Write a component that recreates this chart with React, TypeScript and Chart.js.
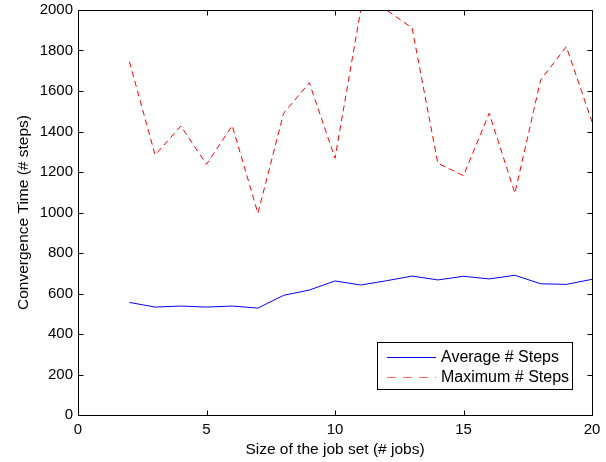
import React, { useEffect, useRef } from "react";
import { Chart, registerables } from "chart.js";

Chart.register(...registerables);

const jobSizes = [2, 3, 4, 5, 6, 7, 8, 9, 10, 11, 12, 13, 14, 15, 16, 17, 18, 19, 20];
const averageSteps = [556, 533, 538, 533, 538, 528, 591, 617, 662, 642, 663, 686, 667, 685, 672, 690, 648, 645, 670];
const maximumSteps = [1745, 1284, 1427, 1238, 1429, 996, 1490, 1641, 1268, 2000, 2000, 1911, 1243, 1182, 1490, 1095, 1654, 1819, 1448];
const xTicks = [0, 5, 10, 15, 20];
const yTicks = [0, 200, 400, 600, 800, 1000, 1200, 1400, 1600, 1800, 2000];
const seriesLabels = ["Average # Steps", "Maximum # Steps"];

const FONT = "Liberation Sans, Arial, Helvetica, sans-serif";

const framePlugin = {
  id: "matlabFrame",
  afterDatasetsDraw(chart: any) {
    const { ctx, chartArea } = chart;
    const { left, right, top, bottom } = chartArea;
    const xs = chart.scales.x;
    const ys = chart.scales.y;
    ctx.save();
    ctx.strokeStyle = "#000";
    ctx.lineWidth = 1;
    const L = Math.round(left) + 0.5;
    const R = Math.round(right) + 0.5;
    const T = Math.round(top) + 0.5;
    const B = Math.round(bottom) + 0.5;
    ctx.beginPath();
    ctx.rect(L, T, R - L, B - T);
    const tl = 5;
    xTicks.forEach((v) => {
      const px = Math.round(xs.getPixelForValue(v)) + 0.5;
      ctx.moveTo(px, B);
      ctx.lineTo(px, B - tl);
      ctx.moveTo(px, T);
      ctx.lineTo(px, T + tl);
    });
    yTicks.forEach((v) => {
      const py = Math.round(ys.getPixelForValue(v)) + 0.5;
      ctx.moveTo(L, py);
      ctx.lineTo(L + tl, py);
      ctx.moveTo(R, py);
      ctx.lineTo(R - tl, py);
    });
    ctx.stroke();

    // legend
    const bx = 377.5, by = 342.5, bw = 195, bh = 47;
    ctx.fillStyle = "#fff";
    ctx.fillRect(bx, by, bw, bh);
    ctx.strokeStyle = "#000";
    ctx.strokeRect(bx, by, bw, bh);
    const rows = [357.5, 377.5];
    ctx.lineWidth = 1;
    ctx.beginPath();
    ctx.strokeStyle = "#0000ff";
    ctx.moveTo(387, rows[0]);
    ctx.lineTo(436, rows[0]);
    ctx.stroke();
    ctx.beginPath();
    ctx.strokeStyle = "#ff6060";
    ctx.setLineDash([9, 7]);
    ctx.moveTo(387, rows[1]);
    ctx.lineTo(436, rows[1]);
    ctx.stroke();
    ctx.setLineDash([]);
    ctx.fillStyle = "#000";
    ctx.font = `16px ${FONT}`;
    ctx.textBaseline = "middle";
    ctx.textAlign = "left";
    ctx.fillText(seriesLabels[0], 441, rows[0]);
    ctx.fillText(seriesLabels[1], 441, rows[1]);
    ctx.restore();
  },
};

export default function App() {
  const ref = useRef<HTMLCanvasElement | null>(null);
  useEffect(() => {
    if (!ref.current) return;
    const chart = new Chart(ref.current, {
      type: "line",
      data: {
        datasets: [
          {
            label: seriesLabels[0],
            data: jobSizes.map((x, i) => ({ x, y: averageSteps[i] })),
            borderColor: "#0000ff",
            borderWidth: 1,
            pointRadius: 0,
            tension: 0,
            fill: false,
          },
          {
            label: seriesLabels[1],
            data: jobSizes.map((x, i) => ({ x, y: maximumSteps[i] })),
            borderColor: "#ff0000",
            borderWidth: 1,
            borderDash: [6, 4],
            pointRadius: 0,
            tension: 0,
            fill: false,
          },
        ],
      },
      options: {
        animation: false,
        responsive: false,
        maintainAspectRatio: false,
        devicePixelRatio: 1,
        layout: { padding: { top: 10, right: 14, left: 0, bottom: 0 } },
        plugins: {
          legend: { display: false },
          tooltip: { enabled: false },
        },
        scales: {
          x: {
            type: "linear",
            min: 0,
            max: 20,
            grid: { display: false, drawTicks: false },
            border: { display: false },
            afterBuildTicks: (s: any) => {
              s.ticks = xTicks.map((v) => ({ value: v }));
            },
            afterFit: (s: any) => {
              s.height = 47;
              s.paddingLeft = 0;
              s.paddingRight = 0;
            },
            ticks: {
              color: "#000",
              padding: 6,
              font: { family: FONT, size: 15 },
              maxRotation: 0,
              callback: (v: any) => String(v),
            },
            title: {
              display: true,
              text: "Size of the job set (# jobs)",
              color: "#000",
              font: { family: FONT, size: 15.5 },
              padding: { top: 1, bottom: 3 },
            },
          },
          y: {
            type: "linear",
            min: 0,
            max: 2000,
            grid: { display: false, drawTicks: false },
            border: { display: false },
            afterBuildTicks: (s: any) => {
              s.ticks = yTicks.map((v) => ({ value: v }));
            },
            afterFit: (s: any) => {
              s.width = 78;
              s.paddingTop = 0;
              s.paddingBottom = 0;
            },
            ticks: {
              color: "#000",
              padding: 5,
              font: { family: FONT, size: 15 },
              callback: (v: any) => String(v),
            },
            title: {
              display: true,
              text: "Convergence Time (# steps)",
              color: "#000",
              font: { family: FONT, size: 15.5 },
              padding: { top: 14.5, bottom: 0 },
            },
          },
        },
      },
      plugins: [framePlugin],
    });
    return () => chart.destroy();
  }, []);
  return (
    <div style={{ position: "fixed", left: 0, top: 0, width: 606, height: 462, background: "#fff" }}>
      <canvas ref={ref} width={606} height={462} style={{ width: 606, height: 462, display: "block" }} />
    </div>
  );
}
